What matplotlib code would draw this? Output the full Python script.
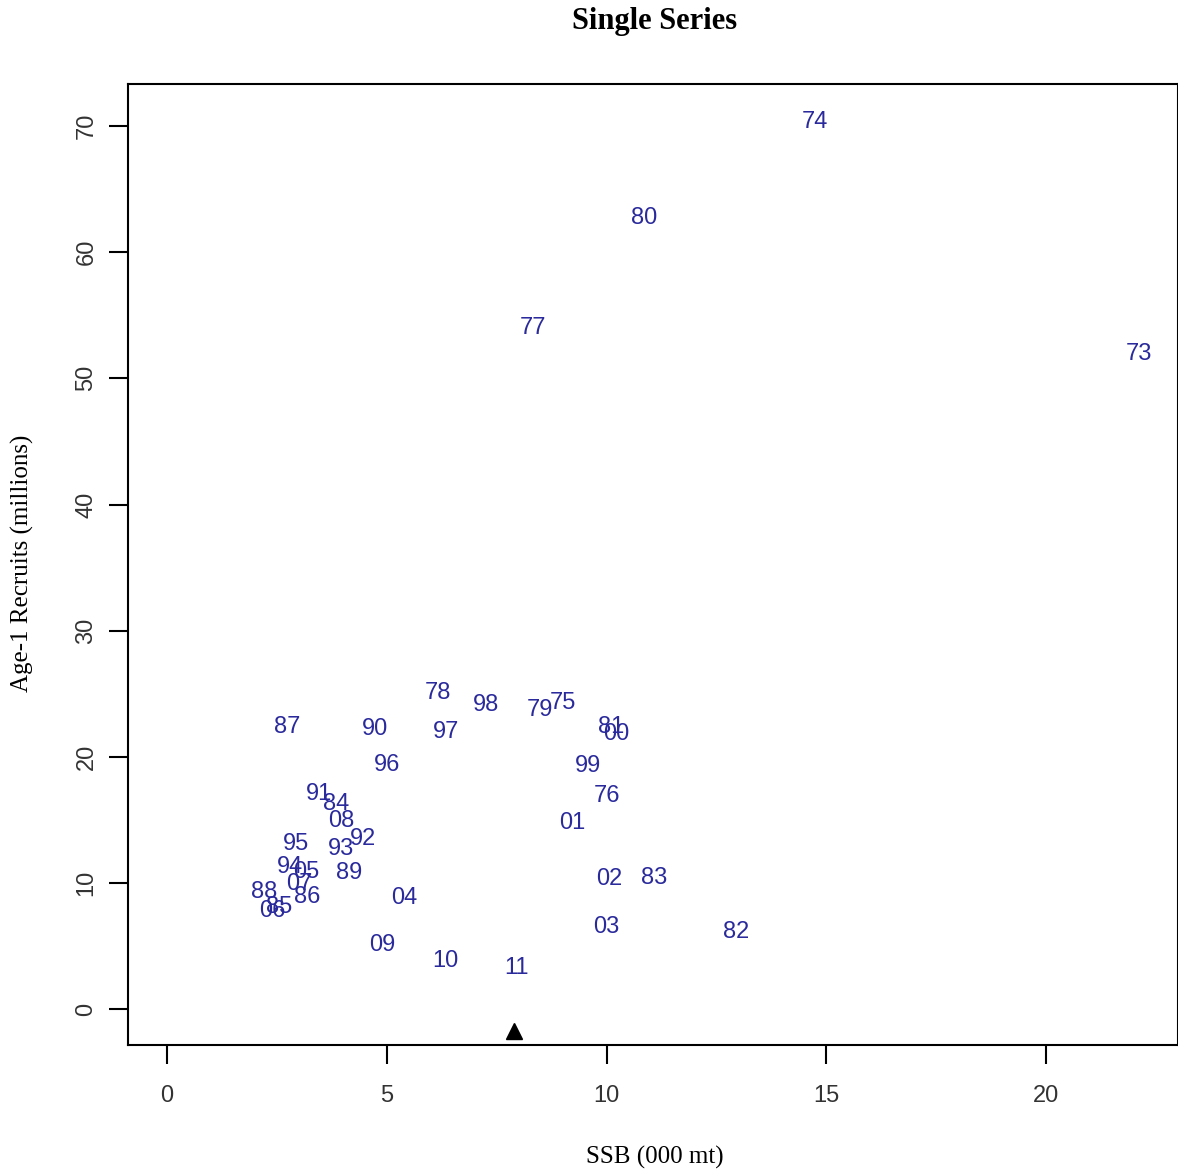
import matplotlib.pyplot as plt

# year labels, SSB (000 mt) and age-1 recruits (millions)
years = ['73', '74', '75', '76', '77', '78', '79', '80', '81', '82', '83', '84', '85',
         '86', '87', '88', '89', '90', '91', '92', '93', '94', '95', '96', '97', '98',
         '99', '00', '01', '02', '03', '04', '05', '06', '07', '08', '09', '10', '11']
ssb = [22.11, 14.74, 9.00, 10.00, 8.32, 6.17, 8.48, 10.86, 10.11, 12.95, 11.07, 3.85, 2.56,
       3.20, 2.74, 2.20, 4.15, 4.74, 3.47, 4.47, 3.95, 2.81, 2.93, 5.01, 6.35, 7.26,
       9.57, 10.23, 9.21, 10.07, 10.00, 5.40, 3.17, 2.40, 3.02, 3.97, 4.90, 6.33, 7.96]
recruits = [52.1, 70.5, 24.5, 17.1, 54.2, 25.3, 23.9, 62.9, 22.6, 6.35, 10.6, 16.5, 8.3,
            9.1, 22.6, 9.5, 11.0, 22.4, 17.3, 13.7, 12.9, 11.5, 13.3, 19.6, 22.2, 24.3,
            19.5, 22.0, 15.0, 10.5, 6.75, 9.0, 11.1, 8.0, 10.1, 15.1, 5.3, 4.05, 3.5]

# marker for the reference point
ref_ssb = [7.89]
ref_rec = [-1.75]

fig = plt.figure(figsize=(11.78, 11.72), dpi=100)
ax = fig.add_axes([128 / 1178, 1 - 1045 / 1172, (1178 - 128) / 1178, (1045 - 84) / 1172])

for lab, x, y in zip(years, ssb, recruits):
    ax.text(x, y, lab, ha='center', va='center_baseline', color='#2a2a9c',
            fontsize=17, family='Liberation Sans')

ax.plot(ref_ssb, ref_rec, marker='^', color='black', markersize=12, linestyle='none')

xmax = max(ssb)
ymax = max(recruits)
ax.set_xlim(-0.04 * xmax, xmax * 1.04)
ax.set_ylim(-0.04 * ymax, ymax * 1.04)

ax.set_xticks([0, 5, 10, 15, 20])
ax.set_yticks([0, 10, 20, 30, 40, 50, 60, 70])
ax.tick_params(length=14, width=1.5, labelsize=17, colors='black')
ax.tick_params(axis='x', pad=15)
ax.tick_params(axis='y', pad=8)
for t in ax.get_xticklabels() + ax.get_yticklabels():
    t.set_family('Liberation Sans')
    t.set_color('#333333')
for t in ax.get_yticklabels():
    t.set_rotation(90)
    t.set_va('center')

for s in ax.spines.values():
    s.set_linewidth(1.5)

# axis titles and main title placed like the R output
fig.text(655 / 1178, 1 - 1157 / 1172, 'SSB (000 mt)', ha='center', va='center',
         family='Liberation Serif', fontsize=18)
fig.text(22 / 1178, 1 - 563 / 1172, 'Age-1 Recruits (millions)', ha='center', va='center',
         rotation=90, family='Liberation Serif', fontsize=18)
fig.text(655 / 1178, 1 - 21 / 1172, 'Single Series', ha='center', va='center',
         family='Liberation Serif', fontweight='bold', fontsize=22)

fig.savefig('out.png', dpi=100)
